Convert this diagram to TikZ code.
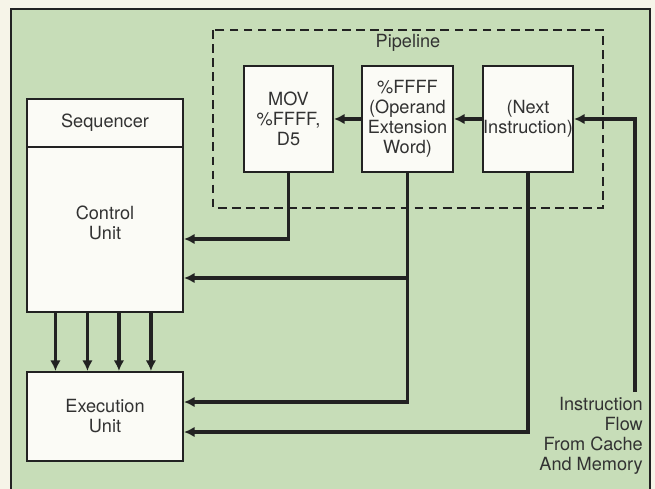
\documentclass[tikz,border=0pt]{standalone}
\usepackage{fontspec}
\setmainfont{TeX Gyre Heros}
\usepackage{tikz}
\usetikzlibrary{arrows.meta,positioning,calc}
\definecolor{paper}{RGB}{246,244,232}
\definecolor{panelgreen}{RGB}{199,221,184}
\definecolor{boxwhite}{RGB}{251,251,246}
\definecolor{inkdark}{RGB}{34,34,34}
\definecolor{textgray}{RGB}{50,50,50}

\tikzset{
  unitbox/.style={draw=inkdark,line width=1.8pt,fill=boxwhite,minimum width=4.68cm,
                  inner sep=0pt,align=center,text=textgray},
  stagebox/.style={draw=inkdark,line width=1.8pt,fill=boxwhite,minimum height=3.18cm,
                   inner sep=0pt,align=center,text=textgray},
  bus/.style={draw=inkdark,line width=3pt,-{Latex[length=9pt,width=9pt]}},
  lbl/.style={text=textgray,align=center,inner sep=0pt}
}

\begin{document}
\begin{tikzpicture}[x=0.03cm,y=-0.03cm,font=\fontsize{15.5}{17}\selectfont]
\useasboundingbox (0,0) rectangle (655,489);
% panel
\fill[paper] (0,0) rectangle (655,489);
\fill[panelgreen] (11,9) rectangle (650,489);
\draw[inkdark,line width=2.2pt] (11,489) -- (11,9) -- (650,9) -- (650,489);

% pipeline
\draw[inkdark,line width=1.5pt,dash pattern=on 7.5pt off 4.5pt] (213,30) rectangle (603,208);
\node[lbl] (pipe) at (408,43) {Pipeline};
\node[stagebox,minimum width=2.67cm] (mov) at (288.5,119) {MOV\\\%FFFF,\\D5};
\node[stagebox,minimum width=2.73cm] (opnd) at (407.5,119) {\%FFFF\\(Operand\\Extension\\Word)};
\node[stagebox,minimum width=2.7cm] (next) at (528,119) {(Next\\Instruction)};

% units
\node[unitbox,minimum height=1.44cm] (seq) at (105,123) {Sequencer};
\node[unitbox,minimum height=4.95cm] (ctrl) at (105,229.5) {};
\node[lbl] (ctrltxt) at (105,222.5) {Control\\Unit};
\node[unitbox,minimum height=2.67cm] (exec) at (105,416.5) {Execution\\Unit};

% instruction flow
\coordinate (src) at (635,392);
\node[lbl,align=right,anchor=north east] (flow) at (643,397)
  {Instruction\\Flow\\From Cache\\And Memory};

% connectors
\draw[bus] (src) |- (next.east);
\draw[bus] (next.west) -- (opnd.east);
\draw[bus] (opnd.west) -- (mov.east);
\draw[bus] (mov.south) |- (ctrl.east |- 0,239);
\draw[bus] (opnd.south) |- (exec.east |- 0,402);
\draw[bus] (opnd.south |- 0,278) -- (ctrl.east |- 0,278);
\draw[bus] (next.south) |- (exec.east |- 0,432);
\foreach \dx in {29.5,61.5,93,125}
  \draw[bus] ([xshift=\dx*0.03cm]ctrl.south west) -- ([xshift=\dx*0.03cm]exec.north west);
\end{tikzpicture}
\end{document}
